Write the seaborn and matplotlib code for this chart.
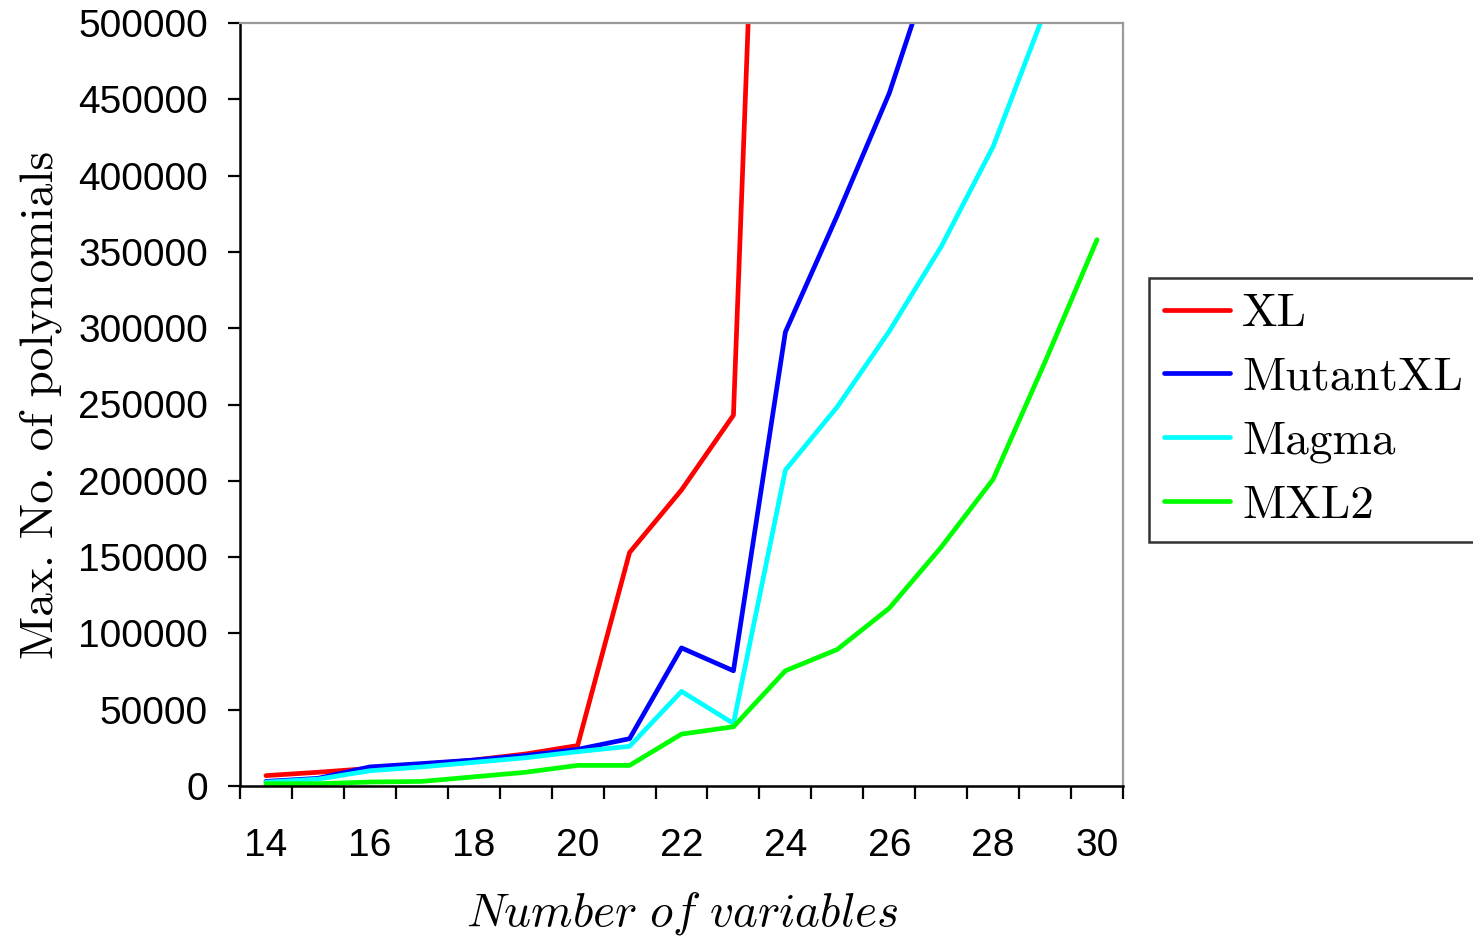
import numpy as np
import pandas as pd
import seaborn as sns
import matplotlib.pyplot as plt
from matplotlib.ticker import FixedLocator, NullFormatter

# -------------------------------
# DATA
# -------------------------------
variables = list(range(14, 31))

xl_vals = [6800, 9000, 11500, 14000, 17000, 21000, 26500, 153000, 194000, 243000, 1150000]
mutantxl_vals = [3000, 5000, 12500, 14700, 17000, 20000, 24000, 31000, 90500, 75500, 297500,
                 374000, 454000, 557000]
magma_vals = [2500, 4500, 10000, 12500, 15500, 18500, 22500, 26000, 62000, 41000, 207000,
              248500, 298000, 353500, 419000, 508000]
mxl2_vals = [1500, 1500, 2600, 3000, 6000, 9000, 13500, 13500, 34000, 38800, 75500, 89500,
             116500, 156500, 201000, 278000, 358000]

series_names = ["XL", "MutantXL", "Magma", "MXL2"]
series_colors = ["#FF0000", "#0000FF", "#00FFFF", "#00FF00"]

rows = []
for name, vals in zip(series_names, [xl_vals, mutantxl_vals, magma_vals, mxl2_vals]):
    for x, v in zip(variables, vals):
        rows.append({"Variables": x, "Polynomials": v, "Method": name})
df = pd.DataFrame(rows)

# -------------------------------
# STYLE
# -------------------------------
sns.set_style("white")
plt.rcParams["font.family"] = ["Liberation Sans", "DejaVu Sans"]
plt.rcParams["mathtext.fontset"] = "cm"
plt.rcParams["text.color"] = "black"
plt.rcParams["axes.labelcolor"] = "black"

fig = plt.figure(figsize=(14.73, 9.36), dpi=100)
ax = fig.add_axes([240 / 1473, 1 - 786 / 936, (1123 - 240) / 1473, (786 - 23) / 936])

sns.lineplot(
    data=df, x="Variables", y="Polynomials", hue="Method",
    palette=dict(zip(series_names, series_colors)), hue_order=series_names,
    linewidth=3.4, sort=False, ax=ax, legend=False,
)

ax.set_xlim(13.5, 30.5)
ax.set_ylim(0, 500000)

# category axis: ticks between categories, labels at every second category
ax.xaxis.set_major_locator(FixedLocator(np.arange(13.5, 31, 1)))
ax.xaxis.set_major_formatter(NullFormatter())
ax.xaxis.set_minor_locator(FixedLocator(variables[::2]))
ax.set_xticklabels([str(v) for v in variables[::2]], minor=True)
ax.tick_params(axis="x", which="major", bottom=True, direction="out", length=9,
               width=1.6, color="black")
ax.tick_params(axis="x", which="minor", bottom=True, length=0, pad=30, labelsize=28,
               labelcolor="black")

ax.set_yticks(np.arange(0, 500001, 50000))
ax.set_yticklabels([str(v) for v in range(0, 500001, 50000)])
ax.tick_params(axis="y", left=True, direction="out", length=9, width=1.6, color="black",
               pad=14, labelsize=28, labelcolor="black")

for side in ["left", "bottom"]:
    ax.spines[side].set_color("black")
    ax.spines[side].set_linewidth(1.8)
for side in ["top", "right"]:
    ax.spines[side].set_color("#9a9a9a")
    ax.spines[side].set_linewidth(1.6)

ax.set_xlabel(r"$Number\ of\ variables$", fontsize=34, labelpad=18)
ax.set_ylabel("Max. No. of polynomials", fontsize=34, family="cmr10", labelpad=12)

handles = [plt.Line2D([], [], color=c, linewidth=3.4) for c in series_colors]
leg = fig.legend(
    handles, series_names, loc="upper left", bbox_to_anchor=(1149 / 1473, 1 - 278 / 936),
    prop={"family": "cmr10", "size": 34}, frameon=True, fancybox=False, edgecolor="black",
    handlelength=1.4, handletextpad=0.25, labelspacing=0.46, borderpad=0.32, borderaxespad=0,
)
leg.get_frame().set_linewidth(1.8)
for t in leg.get_texts():
    t.set_color("black")

plt.savefig("out.png", dpi=100)
plt.close()
